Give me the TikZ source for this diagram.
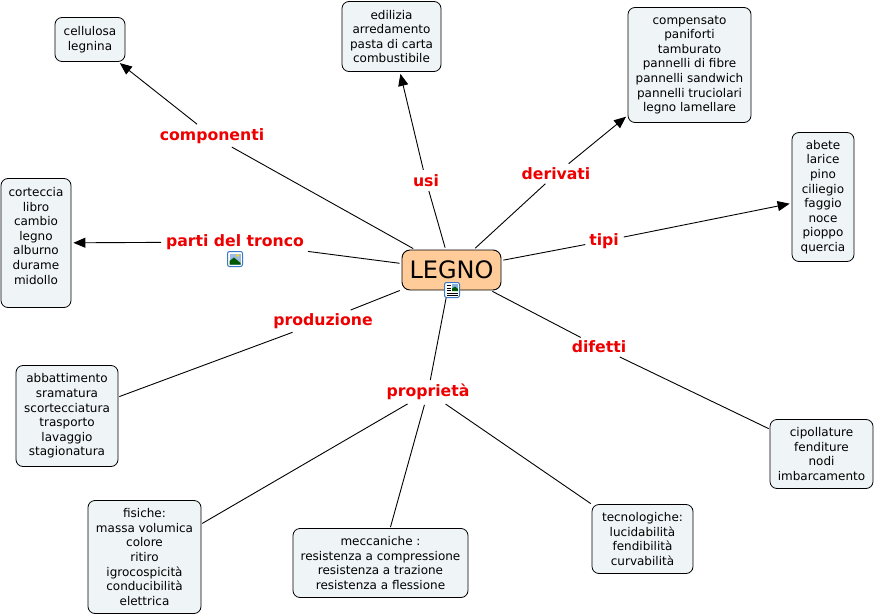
\documentclass[tikz,border=0pt]{standalone}
\usepackage{fontspec}
\setmainfont{DejaVu Sans}
\usetikzlibrary{arrows.meta}
\definecolor{boxfill}{HTML}{EFF4F7}
\definecolor{rootfill}{HTML}{FFCC99}
\definecolor{labred}{HTML}{EE0000}
\definecolor{iconblue}{HTML}{3A78C8}
\tikzset{
  x=1pt,y=-1pt,
  leaf/.style={draw=black,fill=boxfill,rounded corners=7pt,line width=0.8pt,align=center,inner sep=0pt,
    font=\fontsize{12}{14.6}\selectfont},
  root/.style={draw=black,fill=rootfill,rounded corners=8pt,line width=0.9pt,inner sep=0pt,
    font=\fontsize{24}{28}\selectfont},
  lab/.style={text=labred,inner sep=1pt,outer sep=2pt,font=\bfseries\fontsize{15.7}{18}\selectfont},
  conn/.style={line width=0.9pt,black,shorten >=1pt,shorten <=2pt},
  arr/.style={conn,-{Triangle[length=12pt,width=10pt]},shorten >=2pt},
  icon/.style={draw=iconblue,fill=white,rounded corners=2pt,line width=1pt,minimum size=15pt,inner sep=0pt}
}
\begin{document}
\begin{tikzpicture}
\useasboundingbox (0,0) rectangle (875,615);
\node[root,minimum width=99pt,minimum height=40pt] (legno) at (451.5,270) {LEGNO};
\node[leaf,minimum width=70pt,minimum height=44pt] (cell) at (90,39.5) {cellulosa\\legnina};
\node[leaf,minimum width=99pt,minimum height=70pt] (edil) at (391.5,36.5) {edilizia\\arredamento\\pasta di carta\\combustibile};
\node[leaf,minimum width=123pt,minimum height=115pt] (comp) at (689.5,65) {compensato\\paniforti\\tamburato\\pannelli di fibre\\pannelli sandwich\\pannelli truciolari\\legno lamellare};
\node[leaf,minimum width=62pt,minimum height=129pt] (abete) at (823,197) {abete\\larice\\pino\\ciliegio\\faggio\\noce\\pioppo\\quercia};
\node[leaf,minimum width=70pt,minimum height=129pt] (cort) at (36,243) {corteccia\\libro\\cambio\\legno\\alburno\\durame\\midollo\\\mbox{}};
\node[leaf,minimum width=102pt,minimum height=101pt] (abba) at (67,416) {abbattimento\\sramatura\\scortecciatura\\trasporto\\lavaggio\\stagionatura};
\node[leaf,minimum width=113pt,minimum height=113pt] (fis) at (144.5,557) {fisiche:\\massa volumica\\colore\\ritiro\\igrocospicità\\conducibilità\\elettrica};
\node[leaf,minimum width=175pt,minimum height=69pt] (mecc) at (380.5,563) {meccaniche :\\resistenza a compressione\\resistenza a trazione\\resistenza a flessione};
\node[leaf,minimum width=101pt,minimum height=69pt] (tecn) at (642.5,539) {tecnologiche:\\lucidabilità\\fendibilità\\curvabilità};
\node[leaf,minimum width=103pt,minimum height=69pt] (cipo) at (821.5,454) {cipollature\\fenditure\\nodi\\imbarcamento};
\node[lab] (lcomp) at (212,136) {componenti};
\node[lab] (lusi) at (426,181) {usi};
\node[lab] (lder) at (556,174) {derivati};
\node[lab] (ltipi) at (604,241) {tipi};
\node[lab] (lpart) at (235,242) {parti del tronco};
\node[lab] (lprod) at (323,321) {produzione};
\node[lab] (ldif) at (599,347) {difetti};
\node[lab] (lprop) at (428,392) {proprietà};
\foreach \a/\b in {legno/lcomp,legno/lusi,legno/lder,legno/ltipi,legno/lpart,legno/lprod,legno/ldif,legno/lprop,lprod/abba,ldif/cipo,lprop/fis,lprop/mecc,lprop/tecn}
  \draw[conn] (\a) -- (\b);
\foreach \a/\b in {lcomp/cell,lusi/edil,lder/comp,ltipi/abete,lpart/cort}
  \draw[arr] (\a) -- (\b);
% icons
\node[icon] (iconA) at (452,290) {};
\foreach \yy in {285.5,288,290.5,293,295.5}
  \draw[black,line width=0.8pt] (446.5,\yy) -- (451,\yy);
\foreach \yy in {293,295.5}
  \draw[black,line width=0.8pt] (451,\yy) -- (457.5,\yy);
\fill[iconblue!60] (452,284) rectangle (458,291);
\fill[green!35!black] (452,291) -- (452,288.5) -- (455,286.5) -- (458,289) -- (458,291) -- cycle;
\node[icon] (iconB) at (235,259) {};
\fill[iconblue!50] (229.5,253.5) rectangle (240.5,264.5);
\fill[yellow!80!orange] (237.5,255.5) circle (1.5);
\fill[green!35!black] (229.5,264.5) -- (229.5,261) -- (234,257.5) -- (240.5,263) -- (240.5,264.5) -- cycle;
\end{tikzpicture}
\end{document}
